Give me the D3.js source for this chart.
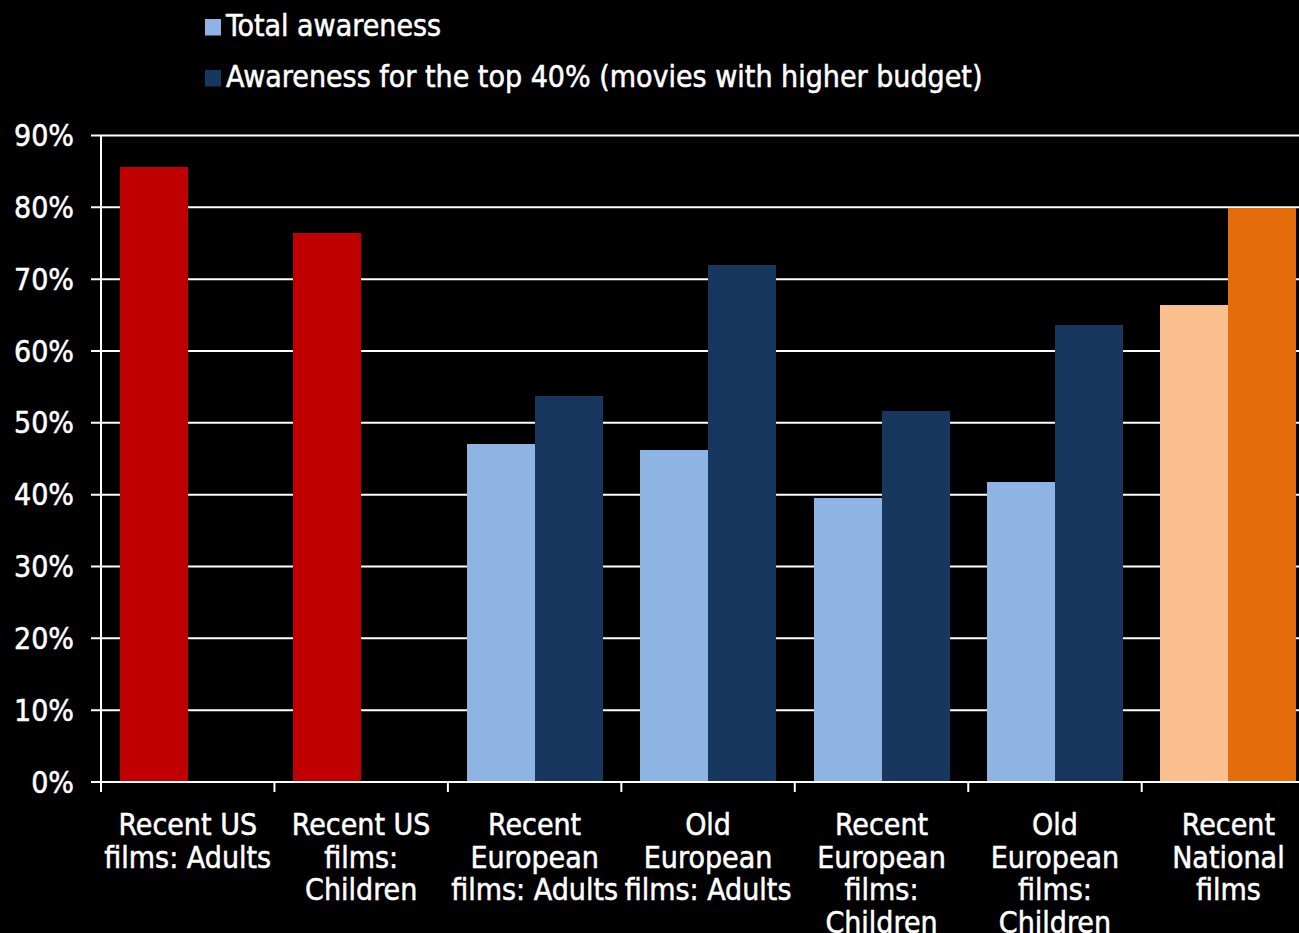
<!DOCTYPE html>
<html>
<head>
<meta charset="utf-8">
<script src="https://cdn.jsdelivr.net/npm/d3@7"></script>
<style>
  html, body { margin: 0; padding: 0; background: #000; overflow: hidden; }
  svg { display: block; }
  text { font-family: 'DejaVu Sans Condensed', 'DejaVu Sans', sans-serif; font-stretch: condensed; fill: #fff; stroke: #fff; stroke-width: 0.5px; }
</style>
</head>
<body>
<svg id="chart" width="1299" height="933"></svg>
<script>
// Awareness of film groups, two measures per group
const categories = [
  "Recent US films: Adults",
  "Recent US films: Children",
  "Recent European films: Adults",
  "Old European films: Adults",
  "Recent European films: Children",
  "Old European films: Children",
  "Recent National films"
];
// Wrapped category labels as shown under the axis
const categoryLines = [
  ["Recent US", "films: Adults"],
  ["Recent US", "films:", "Children"],
  ["Recent", "European", "films: Adults"],
  ["Old", "European", "films: Adults"],
  ["Recent", "European", "films:", "Children"],
  ["Old", "European", "films:", "Children"],
  ["Recent", "National", "films"]
];
const seriesNames = ["Total awareness", "Awareness for the top 40% (movies with higher budget)"];
const totalAwareness = [85.6, 76.4, 47.1, 46.2, 39.6, 41.8, 66.4];
const topAwareness   = [null, null, 53.7, 72.0, 51.6, 63.6, 79.9];
const yTicks = [0, 10, 20, 30, 40, 50, 60, 70, 80, 90];

// Colour pair (total, top 40%) per category group
const groupColors = [
  ["#C00000", "#C00000"],
  ["#C00000", "#C00000"],
  ["#8EB4E3", "#17375E"],
  ["#8EB4E3", "#17375E"],
  ["#8EB4E3", "#17375E"],
  ["#8EB4E3", "#17375E"],
  ["#FAC090", "#E46C0A"]
];
const legendColors = ["#8EB4E3", "#17375E"];

const svg = d3.select("#chart");
const plotLeft = 101, plotBottom = 782, plotTop = 135.5;
const bandW = 173.45;
const fontSize = 30;

const x = d3.scaleBand().domain(categories).range([plotLeft, plotLeft + bandW * categories.length]).padding(0);
const xSub = d3.scaleBand().domain([0, 1]).range([0, x.bandwidth()]).paddingInner(0).paddingOuter(0.275);
const y = d3.scaleLinear().domain([0, 90]).range([plotBottom, plotTop]);

// Horizontal gridlines (with left tick stubs)
svg.append("g")
  .selectAll("line")
  .data(yTicks.filter(d => d > 0))
  .join("line")
  .attr("x1", plotLeft - 10).attr("x2", 1320)
  .attr("y1", d => y(d)).attr("y2", d => y(d))
  .attr("stroke", "#fff").attr("stroke-width", 2);

// Bars
const rows = [];
categories.forEach((c, i) => {
  [totalAwareness[i], topAwareness[i]].forEach((v, s) => {
    if (v != null) rows.push({ c, s, v, color: groupColors[i][s] });
  });
});
svg.append("g")
  .selectAll("rect")
  .data(rows)
  .join("rect")
  .attr("x", d => x(d.c) + xSub(d.s))
  .attr("width", xSub.bandwidth())
  .attr("y", d => y(d.v))
  .attr("height", d => y(0) - y(d.v))
  .attr("fill", d => d.color)
  .attr("shape-rendering", "crispEdges");

// Y axis
const yAxis = svg.append("g");
yAxis.append("line")
  .attr("x1", plotLeft).attr("x2", plotLeft).attr("y1", plotTop).attr("y2", plotBottom)
  .attr("stroke", "#fff").attr("stroke-width", 2);
yAxis.append("line")
  .attr("x1", plotLeft - 10).attr("x2", plotLeft).attr("y1", y(0)).attr("y2", y(0))
  .attr("stroke", "#fff").attr("stroke-width", 2);
yAxis.selectAll("text")
  .data(yTicks)
  .join("text")
  .attr("x", 74)
  .attr("y", d => y(d) + 10.5)
  .attr("text-anchor", "end")
  .attr("font-size", fontSize)
  .text(d => d + "%");

// X axis baseline and band ticks
const xAxis = svg.append("g");
xAxis.append("line")
  .attr("x1", plotLeft).attr("x2", 1320).attr("y1", plotBottom).attr("y2", plotBottom)
  .attr("stroke", "#fff").attr("stroke-width", 2);
xAxis.selectAll("line.tick")
  .data(categories)
  .join("line")
  .attr("class", "tick")
  .attr("x1", d => x(d)).attr("x2", d => x(d))
  .attr("y1", plotBottom).attr("y2", plotBottom + 10)
  .attr("stroke", "#fff").attr("stroke-width", 2);

// Category labels
categories.forEach((c, i) => {
  const t = xAxis.append("text")
    .attr("x", x(c) + x.bandwidth() / 2)
    .attr("y", 835)
    .attr("text-anchor", "middle")
    .attr("font-size", fontSize);
  categoryLines[i].forEach((line, k) => {
    t.append("tspan")
      .attr("x", x(c) + x.bandwidth() / 2)
      .attr("dy", k === 0 ? 0 : 32.5)
      .text(line);
  });
});

// Legend
const legend = svg.append("g");
seriesNames.forEach((name, i) => {
  const base = 36 + i * 51;
  legend.append("rect")
    .attr("x", 205).attr("y", base - 17)
    .attr("width", 16).attr("height", 16.5)
    .attr("fill", legendColors[i]);
  legend.append("text")
    .attr("x", 226).attr("y", base)
    .attr("font-size", fontSize)
    .text(name);
});
</script>
</body>
</html>
